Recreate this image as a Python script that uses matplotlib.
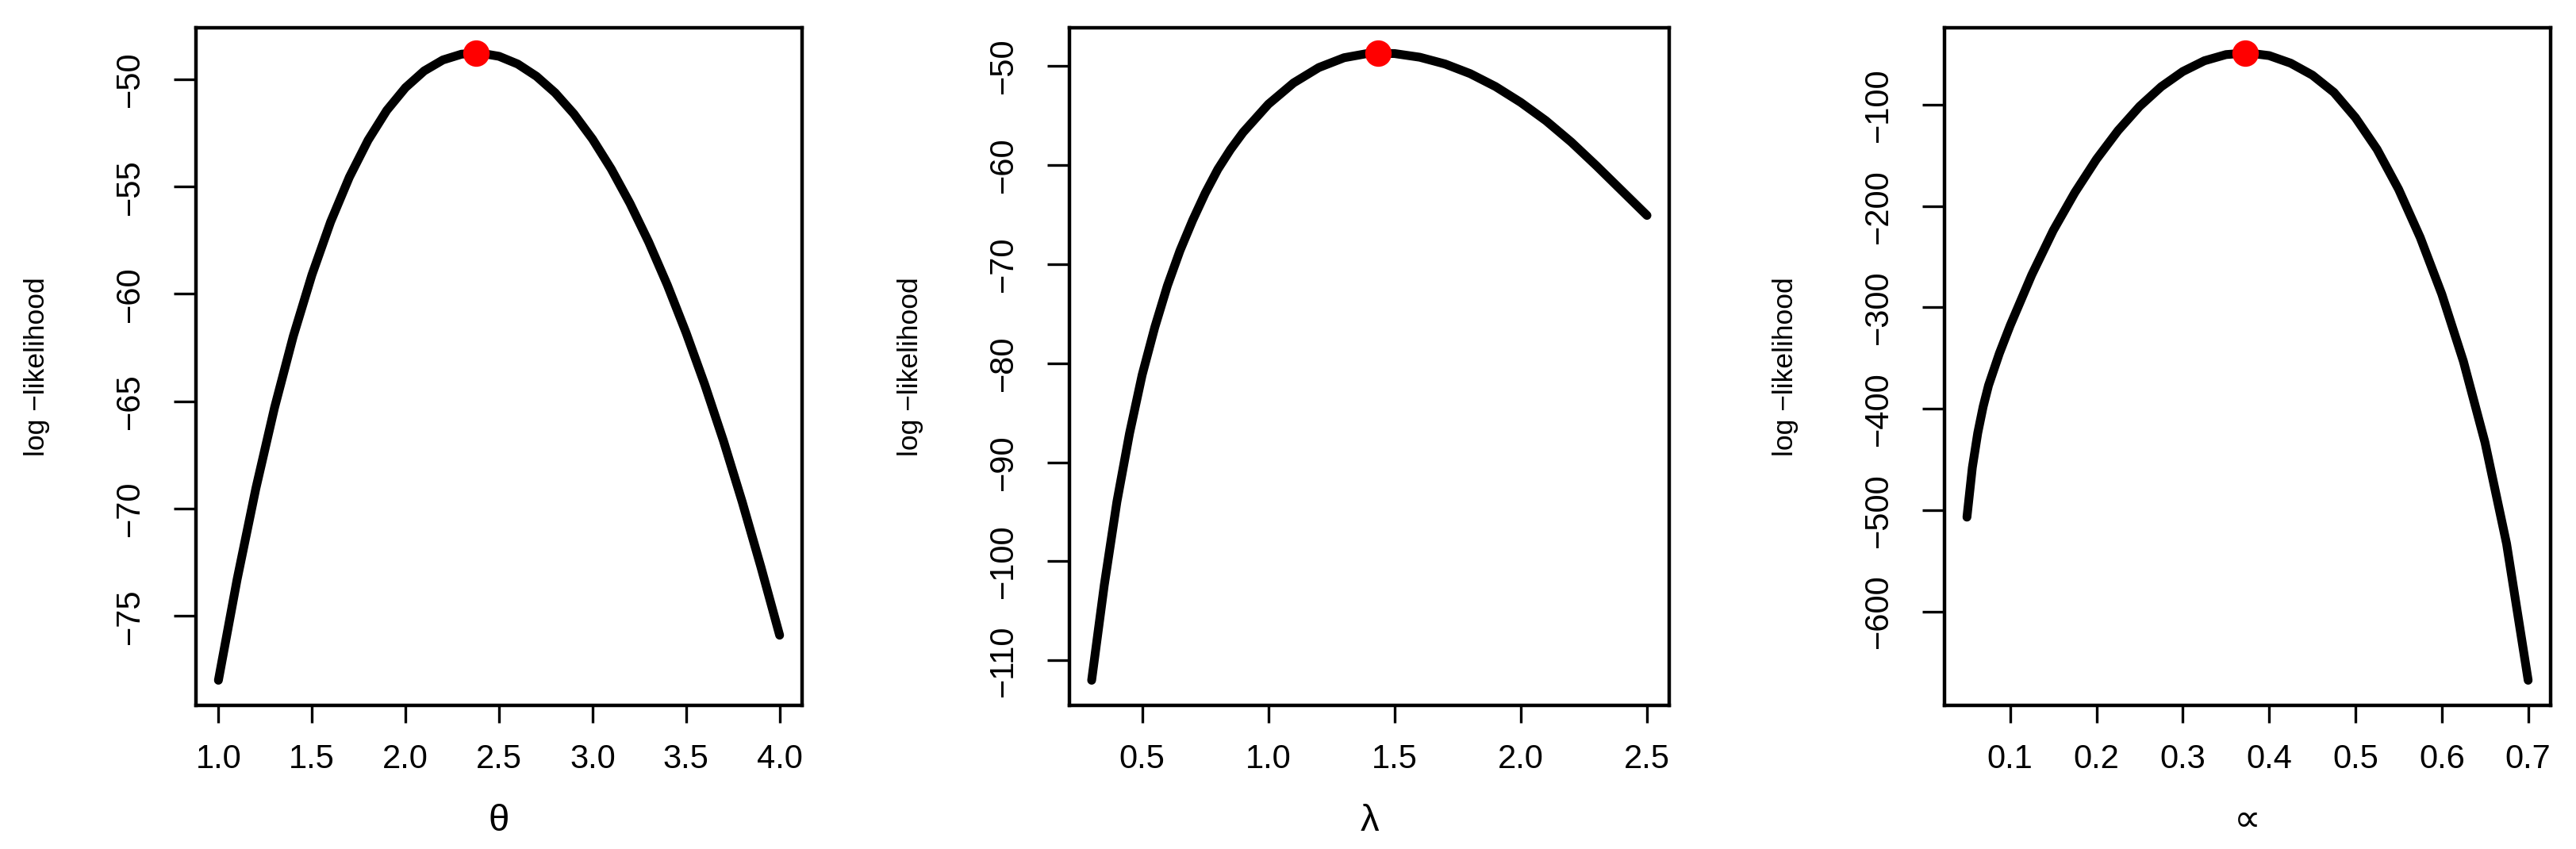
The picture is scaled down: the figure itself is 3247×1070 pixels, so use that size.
import matplotlib
matplotlib.use('Agg')
import matplotlib.pyplot as plt

plt.rcParams['font.family'] = ['Liberation Sans', 'DejaVu Sans']

# panel 1: theta
theta = [1.0, 1.1, 1.2, 1.3, 1.4, 1.5, 1.6, 1.7, 1.8, 1.9, 2.0, 2.1, 2.2, 2.3, 2.4,
         2.5, 2.6, 2.7, 2.8, 2.9, 3.0, 3.1, 3.2, 3.3, 3.4, 3.5, 3.6, 3.7, 3.8, 3.9, 4.0]
ll_theta = [-78.0, -73.3, -69.07, -65.3, -61.98, -59.11, -56.64, -54.56, -52.84, -51.45,
            -50.39, -49.61, -49.10, -48.83, -48.78, -48.93, -49.29, -49.86, -50.63, -51.61,
            -52.79, -54.18, -55.78, -57.58, -59.59, -61.81, -64.23, -66.85, -69.69, -72.72,
            -75.9]
theta_hat, ll_theta_hat = 2.375, -48.77

# panel 2: lambda
lam = [0.3, 0.35, 0.4, 0.45, 0.5, 0.55, 0.6, 0.65, 0.7, 0.75, 0.8, 0.85, 0.9, 1.0, 1.1,
       1.2, 1.3, 1.4, 1.5, 1.6, 1.7, 1.8, 1.9, 2.0, 2.1, 2.2, 2.3, 2.4, 2.5]
ll_lam = [-112.0, -102.4, -94.0, -87.1, -81.2, -76.4, -72.2, -68.65, -65.6, -62.85, -60.44,
          -58.45, -56.72, -53.88, -51.73, -50.18, -49.19, -48.73, -48.77, -49.14, -49.82,
          -50.8, -52.1, -53.7, -55.55, -57.7, -60.1, -62.6, -65.1]
lam_hat, ll_lam_hat = 1.434, -48.7

# panel 3: alpha
alpha = [0.05, 0.05625, 0.0625, 0.06875, 0.075, 0.0875, 0.1, 0.125, 0.15, 0.175, 0.2,
         0.225, 0.25, 0.275, 0.3, 0.325, 0.35, 0.375, 0.4, 0.425, 0.45, 0.475, 0.5, 0.525,
         0.55, 0.575, 0.6, 0.625, 0.65, 0.675, 0.7]
ll_alpha = [-507, -458, -424, -398, -377, -345.5, -318, -268, -224, -186.6, -153.8,
            -125.5, -101.6, -82.2, -67.2, -56.6, -50.5, -48.83, -51.5, -59.0, -70.75, -87.75,
            -112.75, -144.0, -183.5, -231.0, -287.0, -353.25, -433.25, -533.25, -668.0]
alpha_hat, ll_alpha_hat = 0.372, -48.8

xticks = [[1.0, 1.5, 2.0, 2.5, 3.0, 3.5, 4.0],
          [0.5, 1.0, 1.5, 2.0, 2.5],
          [0.1, 0.2, 0.3, 0.4, 0.5, 0.6, 0.7]]
yticks = [[-75, -70, -65, -60, -55, -50],
          [-110, -100, -90, -80, -70, -60, -50],
          [-600, -500, -400, -300, -200, -100]]
xlabels = ['θ', 'λ', '∝']

W, H = 3248, 1070
fig = plt.figure(figsize=(W / 100, H / 100), dpi=100)
boxes = [(247, 1011), (1348, 2104), (2451, 3215)]
top, bottom = 35, 889

panels = [(theta, ll_theta, theta_hat, ll_theta_hat),
          (lam, ll_lam, lam_hat, ll_lam_hat),
          (alpha, ll_alpha, alpha_hat, ll_alpha_hat)]

for i, (x, y, xh, yh) in enumerate(panels):
    l, r = boxes[i]
    ax = fig.add_axes([l / W, (H - bottom) / H, (r - l) / W, (bottom - top) / H])
    ax.plot(x, y, color='black', lw=8, solid_capstyle='round', solid_joinstyle='round')
    ax.plot([xh], [yh], 'o', color='red', markersize=24, markeredgewidth=0, zorder=3)
    ax.margins(0.04)

    ax.set_xticks(xticks[i])
    ax.set_xticklabels(['%.1f' % v for v in xticks[i]])
    ax.set_yticks(yticks[i])
    ax.set_yticklabels([('%d' % v).replace('-', '\u2212') for v in yticks[i]])

    for s in ax.spines.values():
        s.set_linewidth(3.2)
    ax.tick_params(axis='x', direction='out', length=15.8, width=2.4, pad=19, labelsize=30)
    ax.tick_params(axis='y', direction='out', length=20.2, width=2.4, pad=25, labelsize=30,
                   labelrotation=90)
    for t in ax.get_yticklabels():
        t.set_va('center')

    ax.set_xlabel(xlabels[i], fontsize=34)
    ax.xaxis.label.set_va('center')
    ax.xaxis.set_label_coords(0.5, -146 / (bottom - top))
    ax.set_ylabel('log −likelihood', fontsize=25.5)
    ax.yaxis.label.set_va('center')
    ax.yaxis.set_label_coords(-200 / (r - l), 0.5)

fig.savefig('out.png', dpi=100, facecolor='white')
